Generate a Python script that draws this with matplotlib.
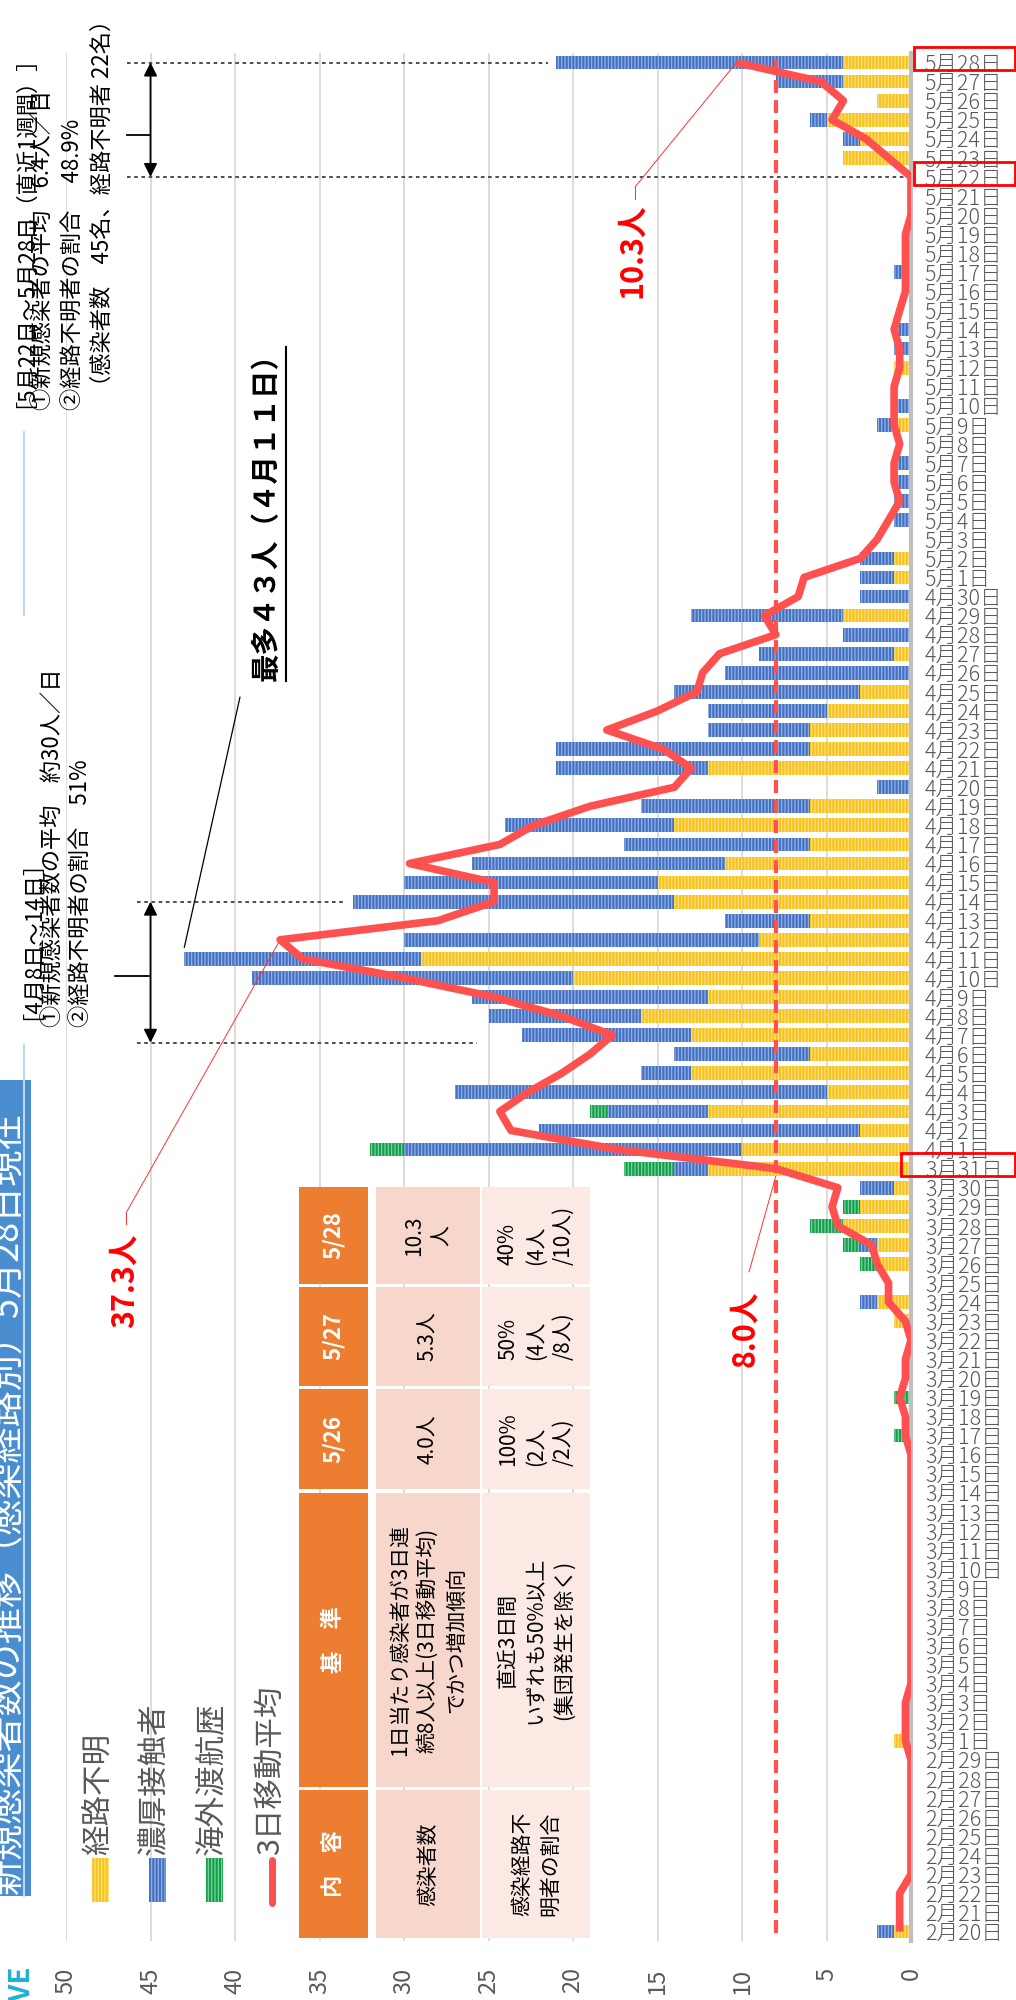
import numpy as np
import pandas as pd
import matplotlib
matplotlib.use("Agg")
import matplotlib.pyplot as plt
import matplotlib.transforms as mtransforms
from matplotlib.patches import Rectangle
from matplotlib.lines import Line2D

plt.rcParams['font.family'] = ['Noto Sans CJK JP', 'DejaVu Sans']
plt.rcParams['hatch.linewidth'] = 0.8

# ---- data (2/20 .. 5/28) ----
dates = pd.date_range("2020-02-20", "2020-05-28")
date_labels = [f"{d.month}月{d.day}日" for d in dates]

# 経路不明
unknown = [1, 0, 0, 0, 0, 0, 0, 0, 0, 0,
           1, 0, 0, 0, 0, 0, 0, 0, 0, 0, 0, 0, 0, 0, 0, 0, 0, 0, 0, 0, 0, 0, 1, 2, 0, 2, 2, 4, 3, 1, 12,
           10, 3, 12, 5, 13, 6, 13, 16, 12, 20, 29, 9, 6, 14, 15, 11, 6, 14, 6, 0, 12, 6, 6, 5, 3, 0, 1, 0, 4, 0,
           1, 1, 0, 0, 0, 0, 0, 0, 1, 0, 0, 1, 0, 0, 0, 0, 0, 0, 0, 0, 0, 0, 4, 3, 5, 2, 4, 4]
# 濃厚接触者
contact = [1, 0, 0, 0, 0, 0, 0, 0, 0, 0,
           0, 0, 0, 0, 0, 0, 0, 0, 0, 0, 0, 0, 0, 0, 0, 0, 0, 0, 0, 0, 0, 0, 0, 1, 0, 0, 1, 0, 0, 2, 2,
           20, 19, 6, 22, 3, 8, 10, 9, 14, 19, 14, 21, 5, 19, 15, 15, 11, 10, 10, 2, 9, 15, 6, 7, 11, 11, 8, 4, 9, 3,
           2, 2, 0, 1, 1, 1, 1, 0, 1, 1, 0, 0, 1, 1, 0, 0, 1, 0, 0, 0, 0, 0, 0, 1, 1, 0, 4, 17]
# 海外渡航歴
overseas = [0, 0, 0, 0, 0, 0, 0, 0, 0, 0,
            0, 0, 0, 0, 0, 0, 0, 0, 0, 0, 0, 0, 0, 0, 0, 0, 1, 0, 1, 0, 0, 0, 0, 0, 0, 1, 1, 2, 1, 0, 3,
            2, 0, 1, 0, 0, 0, 0, 0, 0, 0, 0, 0, 0, 0, 0, 0, 0, 0, 0, 0, 0, 0, 0, 0, 0, 0, 0, 0, 0, 0,
            0, 0, 0, 0, 0, 0, 0, 0, 0, 0, 0, 0, 0, 0, 0, 0, 0, 0, 0, 0, 0, 0, 0, 0, 0, 0, 0, 0]
# 3日移動平均
ma3 = [0.67, 0.67, 0.67, 0, 0, 0, 0, 0, 0, 0,
       0.33, 0.33, 0.33, 0, 0, 0, 0, 0, 0, 0, 0, 0, 0, 0, 0, 0, 0.33, 0.33, 0.67, 0.33, 0.33, 0,
       0.33, 1.33, 1.33, 2.0, 2.33, 4.33, 4.67, 4.33, 8.0,
       17.33, 23.67, 24.33, 22.67, 20.67, 19.0, 17.67, 20.67, 24.67, 30.0, 36.0, 37.33, 28.0, 24.67, 24.67,
       29.67, 24.33, 22.33, 19.0, 14.0, 13.0, 14.67, 18.0, 15.0, 12.67, 12.33, 11.33, 8.0, 8.67, 6.67,
       6.33, 3.0, 2.0, 1.33, 0.67, 1.0, 1.0, 0.67, 1.0, 1.0, 1.0, 0.67, 0.67, 1.0, 0.67, 0.33, 0.33, 0.33,
       0.33, 0, 0, 0, 1.33, 2.67, 4.67, 4.0, 5.33, 10.33]
threshold = 8
value_ticks = [0, 5, 10, 15, 20, 25, 30, 35, 40, 45, 50]

table_head = ['内　容', '基　準', '5/26', '5/27', '5/28']
table_row1 = ['感染者数', '1日当たり感染者が3日連\n続8人以上(3日移動平均)\nでかつ増加傾向', '4.0人', '5.3人', '10.3\n人']
table_row2 = ['感染経路不\n明者の割合', '直近3日間\nいずれも50%以上\n(集団発生を除く)',
              '100%\n(2人\n/2人)', '50%\n(4人\n/8人)', '40%\n(4人\n/10人)']

legend_names = ['経路不明', '濃厚接触者', '海外渡航歴', '3日移動平均']

W, H = 1016, 2000
fig = plt.figure(figsize=(W / 100, H / 100), dpi=100)
ax = fig.add_axes([66 / W, 1 - 1941 / H, (911 - 66) / W, (1941 - 53) / H])


def P(x, y):
    return (x / W, 1 - y / H)


def ftext(x, y, s, **kw):
    fig.text(x / W, 1 - y / H, s, **kw)


def vtext(xc, y0, s, size=16, **kw):
    # upward text whose glyph column is centred on xc and starts at y0
    xb = xc + 0.38 * size * 100 / 72
    fig.text(xb / W, 1 - y0 / H, s, rotation=90, rotation_mode='anchor', ha='left', va='baseline',
             fontsize=size, **kw)


def fline(xs, ys, **kw):
    fig.add_artist(Line2D([v / W for v in xs], [1 - v / H for v in ys], transform=fig.transFigure, **kw))


def frect(x0, y0, x1, y1, **kw):
    r = Rectangle((x0 / W, 1 - y1 / H), (x1 - x0) / W, (y1 - y0) / H, transform=fig.transFigure, **kw)
    fig.add_artist(r)


idx = {lab: i for i, lab in enumerate(date_labels)}
y = np.arange(len(dates))
u = np.array(unknown)
c = np.array(contact)
o = np.array(overseas)

YEL, YEL2 = '#F7C21B', '#FCE48A'
BLU, BLU2 = '#4472C4', '#9DB6E4'
GRN, GRN2 = '#12A04C', '#86D6A4'

ax.barh(y, u, height=0.72, color=YEL, edgecolor=YEL2, hatch='|||||', lw=0, zorder=2)
ax.barh(y, c, left=u, height=0.72, color=BLU, edgecolor=BLU2, hatch='|||||', lw=0, zorder=2)
ax.barh(y, o, left=u + c, height=0.72, color=GRN, edgecolor=GRN2, hatch='|||||', lw=0, zorder=2)

ax.axvline(threshold, ymin=0.004, ymax=0.998, color='#FF5050', lw=3, dashes=(3.1, 1.7), zorder=3)
ax.plot(ma3, y, color='#FF5050', lw=5.5, zorder=4, solid_capstyle='butt')

ax.set_xlim(50, 0)
ax.set_ylim(-0.5, len(dates) - 0.5)
ax.set_xticks(value_ticks)
ax.set_xticklabels([str(v) for v in value_ticks], rotation=90, fontsize=17, color='#595959')
ax.tick_params(axis='x', length=0, pad=19)
ax.set_yticks(y)
ax.set_yticklabels(date_labels, fontsize=15.5, color='#595959', fontweight='light')
ax.yaxis.tick_right()
ax.tick_params(axis='y', length=0, pad=10)
ax.grid(axis='x', color='#D9D9D9', lw=1.3)
ax.set_axisbelow(True)
for s in ['top', 'left', 'bottom']:
    ax.spines[s].set_visible(False)
ax.spines['right'].set_color('#BFBFBF')
ax.spines['right'].set_linewidth(3)

# red boxes round highlighted dates
bt = mtransforms.blended_transform_factory(fig.transFigure, ax.transData)
for lab, x0 in [('5月28日', 914), ('5月22日', 914), ('3月31日', 901)]:
    i = idx[lab]
    fig.add_artist(Rectangle((x0 / W, i - 0.4), (1015 - x0) / W, 1.2, transform=bt,
                             fill=False, edgecolor='#FF0000', lw=2, clip_on=False))

# ---- period annotations ----
i528, i522 = idx['5月28日'], idx['5月22日']
i414, i407, i411, i412, i331 = idx['4月14日'], idx['4月7日'], idx['4月11日'], idx['4月12日'], idx['3月31日']
dot = dict(color='#404040', lw=1.3, dashes=(2, 2), zorder=3)
ax.plot([46.4, u[i528] + c[i528] + 0.5], [i528, i528], **dot)
ax.plot([46.4, 0], [i522, i522], **dot)
ax.plot([46.4, 45.1], [i522 + 2.2, i522 + 2.2], color='black', lw=1.3)
ax.annotate('', xy=(45, i528), xytext=(45, i522),
            arrowprops=dict(arrowstyle='<|-|>', color='black', lw=1.3, mutation_scale=20, shrinkA=0, shrinkB=0))
ax.plot([45.8, u[i414] + c[i414] + 0.5], [i414, i414], **dot)
ax.plot([45.8, 25.7], [i407 - 0.4, i407 - 0.4], **dot)
ax.plot([47.1, 45.1], [i407 + 3.1, i407 + 3.1], color='black', lw=1.3)
ax.annotate('', xy=(45, i414), xytext=(45, i407 - 0.4),
            arrowprops=dict(arrowstyle='<|-|>', color='black', lw=1.3, mutation_scale=20, shrinkA=0, shrinkB=0))

# text blocks
vtext(11, 408, '［5月22日～5月28日（直近1週間）］')
vtext(41, 410, '①新規感染者の平均　6.4人／日')
vtext(71, 410, '②経路不明者の割合　 48.9%')
vtext(100, 397, '（感染者数　45名、経路不明者 22名）')
vtext(19, 1020, '［4月8日～14日］')
vtext(50, 1027, '①新規感染者数の平均　約30人／日')
vtext(79, 1027, '②経路不明者の割合　51%')

ftext(267, 681, '最多４３人（４月１１日）', rotation=90, ha='center', va='bottom', fontsize=20.5, fontweight='bold')
fline([286, 286], [347, 681], color='black', lw=1.5)
ax.annotate('', xy=(u[i411] + c[i411], i411 + 0.6), xycoords='data', xytext=P(240, 697),
            textcoords='figure fraction', arrowprops=dict(arrowstyle='-', color='black', lw=0.9, shrinkA=0, shrinkB=0))

# moving average callouts
red = dict(rotation=90, ha='center', va='center', fontsize=22, color='#FF0000', fontweight='bold')
ftext(125, 1281, '37.3人', **red)
ftext(632, 251, '10.3人', **red)
ftext(745, 1329, '8.0人', **red)
leader = dict(arrowstyle='-', color='#FF3030', lw=0.7, shrinkA=0, shrinkB=0)
fline([126, 126], [1224, 1213], color='#FF3030', lw=0.7)
ax.annotate('', xy=(ma3[i412], i412), xytext=P(126, 1213), textcoords='figure fraction', arrowprops=leader)
fline([635, 635], [199, 187], color='#FF3030', lw=0.7)
ax.annotate('', xy=(ma3[i528], i528), xytext=P(635, 187), textcoords='figure fraction', arrowprops=leader)
ax.annotate('', xy=(ma3[i331], i331 - 0.4), xytext=P(749, 1272), textcoords='figure fraction', arrowprops=leader)

# ---- title band ----
frect(0, 1080, 31, 1896, facecolor='#4A8ED0', edgecolor='none')
fline([24, 24], [1045, 1896], color='#BDD7EE', lw=1.5)
fline([24, 24], [432, 615], color='#BDD7EE', lw=1.5)
ftext(8, 1894, '新規感染者数の推移（感染経路別）5月28日現在', rotation=90, ha='center', va='bottom',
      fontsize=26, color='white')
ftext(20, 1963, 'LIVE', rotation=90, ha='center', va='top', fontsize=20, color='#1DB2D4', fontweight='bold')

# ---- legend ----
leg_x = [98, 155, 212, 270]
for (col, col2), lx in zip([(YEL, YEL2), (BLU, BLU2), (GRN, GRN2)], leg_x[:3]):
    frect(lx - 6, 1858, lx + 11, 1902, facecolor=col, edgecolor=col2, hatch='|||||', lw=0)
fline([272, 272], [1860, 1903], color='#FF5050', lw=5, solid_capstyle='round')
for name, lx in zip(legend_names, leg_x):
    ftext(lx, 1855, name, rotation=90, ha='center', va='bottom', fontsize=22, color='#595959')

# ---- criteria table ----
cell_y = [(1790, 1938), (1493, 1787), (1389, 1489), (1287, 1386), (1187, 1284)]
rows = [((299, 368), '#ED7D31', table_head), ((376, 480), '#F7D6CC', table_row1), ((482, 590), '#FBE9E4', table_row2)]
for r, ((x0, x1), face, texts) in enumerate(rows):
    for k, ((y0, y1), s) in enumerate(zip(cell_y, texts)):
        frect(x0, y0, x1, y1, facecolor=face, edgecolor='none')
        kw = dict(rotation=90, ha='center', va='center', fontsize=15)
        if r == 0:
            kw.update(color='white', fontweight='bold', fontsize=16)
        else:
            kw.update(color='black', linespacing=1.35,
                      multialignment='center' if (r == 1 or k == 1) else 'left')
        ftext((x0 + x1) / 2, (y0 + y1) / 2, s, **kw)

fig.savefig("out.png", dpi=100)
